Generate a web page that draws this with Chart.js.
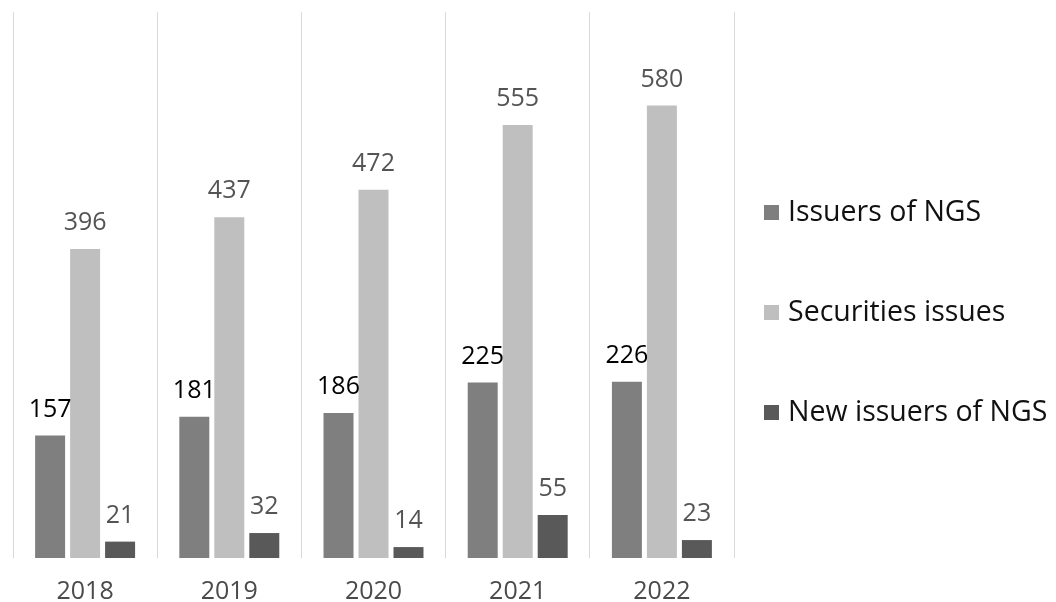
<!DOCTYPE html>
<html>
<head>
<meta charset="utf-8">
<script src="https://cdn.jsdelivr.net/npm/chart.js@4.4.0/dist/chart.umd.min.js"></script>
<style>
  html, body { margin: 0; padding: 0; background: #fff; }
  #wrap { width: 1056px; height: 602px; position: relative; }
</style>
</head>
<body>
<div id="wrap"><canvas id="chart"></canvas></div>
<script>
const years = ['2018', '2019', '2020', '2021', '2022']
const issuers = [157, 181, 186, 225, 226]
const securities = [396, 437, 472, 555, 580]
const newIssuers = [21, 32, 14, 55, 23]
const seriesNames = ['Issuers of NGS', 'Securities issues', 'New issuers of NGS']

const FONT = '"Open Sans", "Noto Sans", sans-serif'
const barColors = ['#7f7f7f', '#bfbfbf', '#595959']
const labelColors = ['#000000', '#545454', '#545454']

// values above the bars
const valueLabels = {
  id: 'valueLabels',
  afterDatasetsDraw(chart) {
    const ctx = chart.ctx
    ctx.save()
    ctx.font = '25px ' + FONT
    ctx.textAlign = 'center'
    ctx.textBaseline = 'alphabetic'
    chart.data.datasets.forEach((ds, i) => {
      const meta = chart.getDatasetMeta(i)
      ctx.fillStyle = labelColors[i]
      meta.data.forEach((bar, j) => {
        ctx.fillText(String(ds.data[j]), bar.x, bar.y - 19)
      })
    })
    ctx.restore()
  }
}

// legend on the right, spaced out like the original
const sideLegend = {
  id: 'sideLegend',
  afterDraw(chart) {
    const ctx = chart.ctx
    const x = chart.chartArea.right + 30
    ctx.save()
    ctx.font = '28.5px ' + FONT
    ctx.textBaseline = 'middle'
    ctx.textAlign = 'left'
    chart.data.datasets.forEach((ds, i) => {
      const y = 212 + i * 100
      ctx.fillStyle = ds.backgroundColor
      ctx.fillRect(x, y - 7, 15, 15)
      ctx.fillStyle = '#111'
      ctx.fillText(ds.label, x + 24, y + 1)
    })
    ctx.restore()
  }
}

new Chart(document.getElementById('chart'), {
  type: 'bar',
  data: {
    labels: years,
    datasets: [
      { label: seriesNames[0], data: issuers, backgroundColor: barColors[0] },
      { label: seriesNames[1], data: securities, backgroundColor: barColors[1] },
      { label: seriesNames[2], data: newIssuers, backgroundColor: barColors[2] }
    ]
  },
  options: {
    responsive: true,
    maintainAspectRatio: false,
    animation: false,
    categoryPercentage: 0.728,
    barPercentage: 0.857,
    layout: { padding: { left: 13, right: 322, top: 12, bottom: -24 } },
    plugins: {
      legend: { display: false },
      tooltip: { enabled: false }
    },
    scales: {
      x: {
        grid: { color: '#d9d9d9', lineWidth: 1, drawTicks: false, offset: true },
        border: { display: false },
        ticks: { color: '#4a4a4a', padding: 19, font: { family: FONT, size: 25 } }
      },
      y: {
        display: false,
        min: 0,
        max: 700
      }
    }
  },
  plugins: [valueLabels, sideLegend]
})
</script>
</body>
</html>
